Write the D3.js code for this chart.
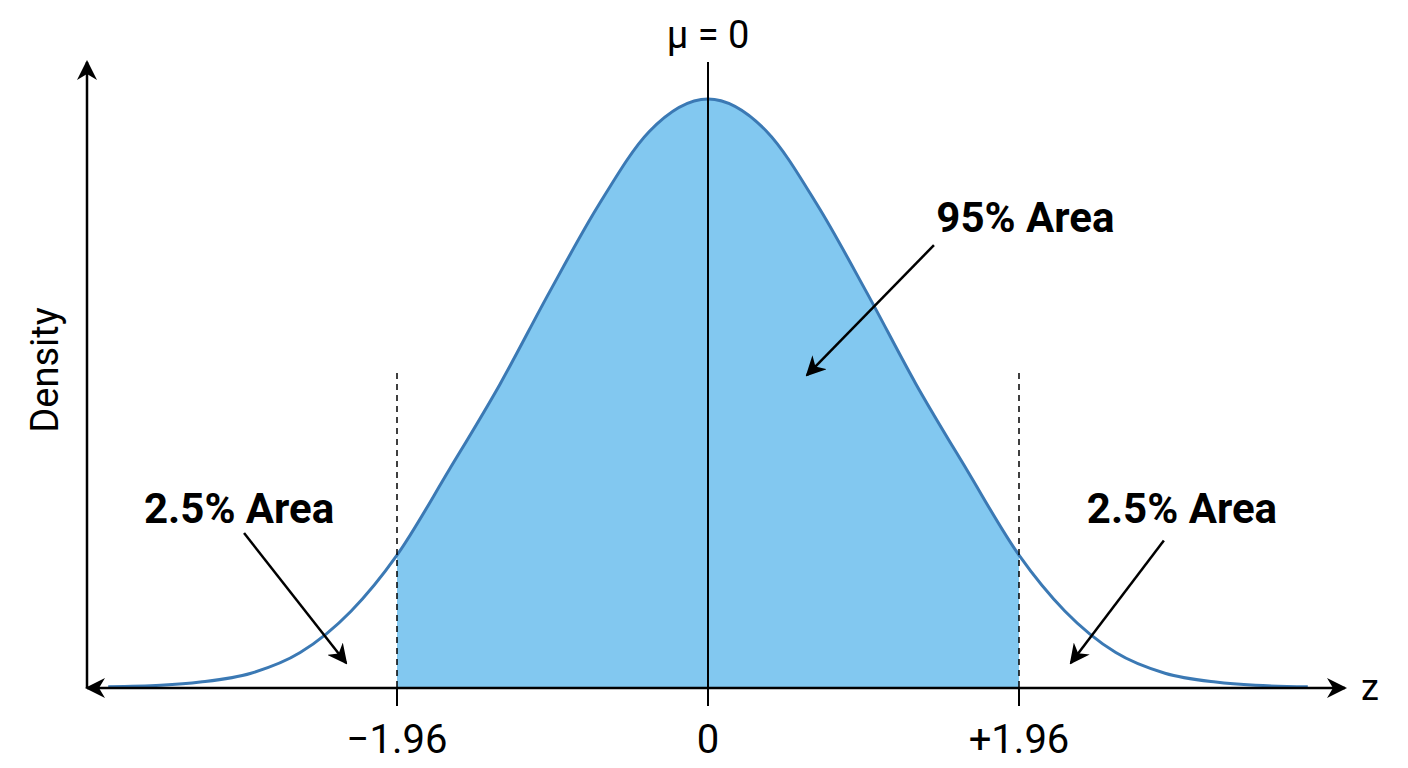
<!DOCTYPE html>
<html><head><meta charset="utf-8">
<script src="https://cdn.jsdelivr.net/npm/d3@7"></script>
<style>body{margin:0;background:#fff}</style>
</head><body>
<svg id="chart"></svg>
<script>
const width = 1408, height = 768;

// curve points (z, density)
const zValues = [-3.78, -3.45, -3.2, -2.88, -2.57, -2.25, -1.96, -1.63, -1.31, -1.0, -0.69, -0.37, 0,
                 0.37, 0.69, 1.0, 1.31, 1.63, 1.96, 2.25, 2.57, 2.88, 3.2, 3.45, 3.78];
const densities = [0.0008, 0.0018, 0.004, 0.010, 0.024, 0.052, 0.090, 0.148, 0.206, 0.268, 0.327, 0.377, 0.399,
                   0.377, 0.327, 0.268, 0.206, 0.148, 0.090, 0.052, 0.024, 0.010, 0.004, 0.0018, 0.0008];
const criticalZ = [-1.96, 1.96];
const tickValues = [-1.96, 0, 1.96];
const tickLabels = ["\u22121.96", "0", "+1.96"];
const areaLabels = [
  {text: "95% Area", z: 2.0, d: 0.309, sz: 1.424, sd: 0.300, tz: 0.624, td: 0.212},
  {text: "2.5% Area", z: -2.955, d: 0.112, sz: -2.924, sd: 0.105, tz: -2.281, td: 0.017},
  {text: "2.5% Area", z: 2.987, d: 0.112, sz: 2.873, sd: 0.100, tz: 2.287, td: 0.017}
];

const data = zValues.map((z, i) => ({z, d: densities[i]}));

const x = d3.scaleLinear().domain([-1.96, 1.96]).range([397, 1019]);
const y = d3.scaleLinear().domain([0, 0.399]).range([688, 99]);

const svg = d3.select("#chart").attr("width", width).attr("height", height);
const defs = svg.append("defs");
defs.append("marker").attr("id", "ax").attr("viewBox", "0 0 10 10")
  .attr("refX", 9).attr("refY", 5).attr("markerWidth", 20).attr("markerHeight", 20)
  .attr("markerUnits", "userSpaceOnUse").attr("orient", "auto-start-reverse")
  .append("path").attr("d", "M0,0 L10,5 L0,10 L3,5 Z").attr("fill", "#000");

const font = "Liberation Sans Narrow, Roboto, sans-serif";
const curve = d3.curveMonotoneX;

// shaded central area
const inner = data.filter(p => p.z >= criticalZ[0] && p.z <= criticalZ[1]);
svg.append("path").datum(inner)
  .attr("fill", "#82c8f0")
  .attr("d", d3.area().x(p => x(p.z)).y0(y(0)).y1(p => y(p.d)).curve(curve));

svg.append("path").datum(data)
  .attr("fill", "none").attr("stroke", "#3b79b4").attr("stroke-width", 3)
  .attr("d", d3.line().x(p => x(p.z)).y(p => y(p.d)).curve(curve));

// dashed critical lines
svg.selectAll(".crit").data(criticalZ).enter().append("line")
  .attr("x1", d => x(d)).attr("x2", d => x(d)).attr("y1", 373).attr("y2", y(0))
  .attr("stroke", "#000").attr("stroke-width", 1.5).attr("stroke-dasharray", "6,5");

// mean line
svg.append("line").attr("x1", x(0)).attr("x2", x(0)).attr("y1", 62).attr("y2", y(0))
  .attr("stroke", "#000").attr("stroke-width", 2);
svg.append("text").attr("x", x(0)).attr("y", 48).attr("text-anchor", "middle")
  .attr("font-family", font).attr("font-size", 38).text("\u03bc = 0");

// axes
svg.append("line").attr("x1", 87).attr("x2", 1345).attr("y1", y(0)).attr("y2", y(0))
  .attr("stroke", "#000").attr("stroke-width", 2.5)
  .attr("marker-start", "url(#ax)").attr("marker-end", "url(#ax)");
svg.append("line").attr("x1", 87).attr("x2", 87).attr("y1", y(0)).attr("y2", 62)
  .attr("stroke", "#000").attr("stroke-width", 2.5).attr("marker-end", "url(#ax)");
svg.append("text").attr("x", 1370).attr("y", 700).attr("text-anchor", "middle")
  .attr("font-family", font).attr("font-size", 36).text("z");
svg.append("text").attr("transform", "translate(58,370) rotate(-90)").attr("text-anchor", "middle")
  .attr("font-family", font).attr("font-size", 38).text("Density");

svg.selectAll(".tk").data(tickValues).enter().append("line")
  .attr("x1", d => x(d)).attr("x2", d => x(d)).attr("y1", y(0)).attr("y2", y(0) + 18)
  .attr("stroke", "#000").attr("stroke-width", 2);
svg.selectAll(".tl").data(tickValues).enter().append("text")
  .attr("x", d => x(d)).attr("y", 753).attr("text-anchor", "middle")
  .attr("font-family", font).attr("font-size", 40)
  .text((d, i) => tickLabels[i]);

// annotations
const ann = svg.selectAll(".ann").data(areaLabels).enter().append("g");
ann.append("text").attr("x", d => x(d.z)).attr("y", d => y(d.d)).attr("text-anchor", "middle")
  .attr("font-family", font).attr("font-weight", "bold")
  .attr("font-size", 42).text(d => d.text);
ann.append("line")
  .attr("x1", d => x(d.sz)).attr("y1", d => y(d.sd))
  .attr("x2", d => x(d.tz)).attr("y2", d => y(d.td))
  .attr("stroke", "#000").attr("stroke-width", 2.5).attr("marker-end", "url(#ax)");
</script>
</body></html>
